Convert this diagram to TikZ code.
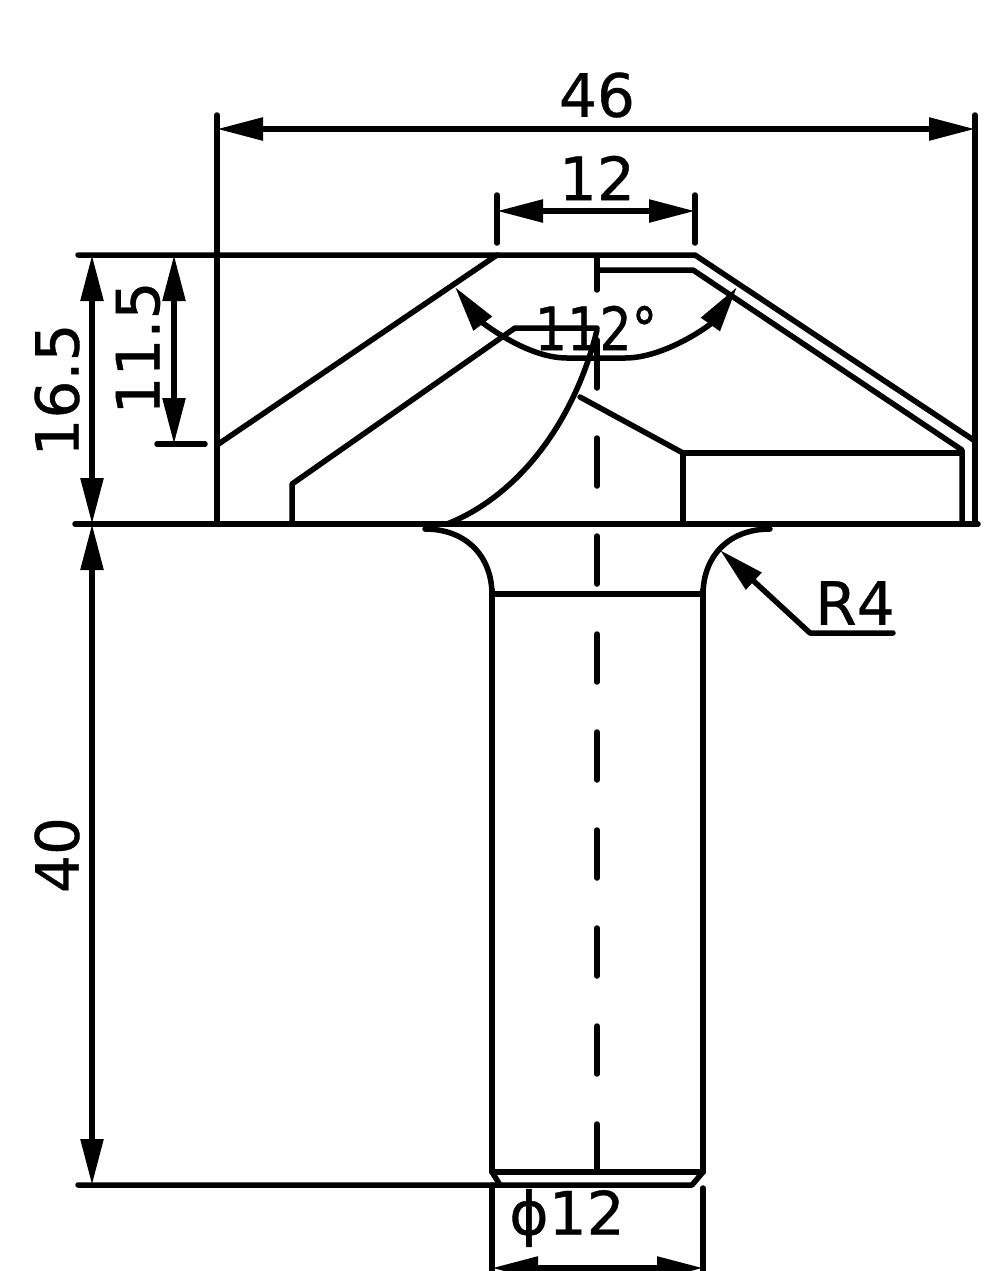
\documentclass[tikz,border=0pt]{standalone}
\usepackage{fontspec}
\setmainfont[FakeBold=0.6]{DejaVu Sans}
\usetikzlibrary{arrows.meta}
\tikzset{
	outline/.style={line width=0.55mm,line cap=round,line join=round},
	centerline/.style={outline,dash pattern=on 4.8mm off 5mm,dash phase=1.6mm},
	dimension/.style={outline,{Triangle[length=4.6mm,width=2.2mm]}-{Triangle[length=4.6mm,width=2.2mm]}},
	leader/.style={outline,{Triangle[length=4.6mm,width=2.2mm]}-},
	dimtext/.style={inner sep=0pt,font=\fontsize{17pt}{20pt}\selectfont}
}
\begin{document}
\begin{tikzpicture}[x=0.1mm,y=-0.1mm]
		\clip (0,0) rectangle (1000,1271);

		\node at (597,  95) [dimtext] (width_total) {46};
		\node at (597, 178) [dimtext] (width_top)   {12};
		\node at (596, 328) [dimtext,xscale=0.85] (angle_top)   {112°};
		\node at (57,  390) [dimtext,rotate=90] (height_total) {16.5};
		\node at (138, 348) [dimtext,rotate=90] (height_cham)  {11.5};
		\node at (57,  855) [dimtext,rotate=90] (length_shank) {40};
		\node at (855, 603) [dimtext] (radius_neck) {R4};
		\node at (567,1218) [dimtext] (dia_shank)   {ϕ12};

		% cutter head
		\draw[outline] (78,255) -- (695,255) -- (975,441);
		\draw[outline] (497,255) -- (217,445);
		\draw[outline] (75,524) -- (978,524);
		\draw[outline] (217,115) -- (217,524);
		\draw[outline] (975,115) -- (975,524);
		\draw[outline] (597,270) -- (693,270) -- (962,450) -- (962,524);
		\draw[outline] (292,524) -- (292,484) -- (515,328) -- (597,328);
		\draw[outline] (683,524) -- (683,453) -- (962,453);
		\draw[outline] (683,453) -- (580,397);
		\draw[outline] (447,524) .. controls (520,495) and (575,420) .. (597,330);

		% neck and shank
		\draw[outline] (425,529) .. controls (465,529) and (492,555) .. (492,595);
		\draw[outline] (770,529) .. controls (730,529) and (703,555) .. (703,595);
		\draw[outline] (492,594) -- (703,594);
		\draw[outline] (492,590) -- (492,1172) -- (703,1172) -- (703,590);
		\draw[outline] (78,1185) -- (692,1185) -- (703,1172);
		\draw[outline] (492,1172) -- (500,1185);

		\draw[centerline] (597,258) -- (597,1172);

		% dimensions
		\draw[dimension] (217,129) -- (975,129);
		\draw[dimension] (497,211) -- (695,211);
		\draw[outline] (497,195) -- (497,243);
		\draw[outline] (695,195) -- (695,243);
		\draw[dimension] (92,255) -- (92,524);
		\draw[dimension] (92,524) -- (92,1185);
		\draw[dimension] (174,255) -- (174,444);
		\draw[outline] (157,444) -- (205,444);
		\draw[dimension] (455,287) .. controls (480,320) and (525,358) .. (567,358) -- (625,358) .. controls (665,358) and (710,325) .. (737,287);
		\draw[outline] (492,1185) -- (492,1271);
		\draw[outline] (703,1188) -- (703,1271);
		\draw[dimension] (492,1268) -- (703,1268);
		\draw[leader] (720,550) -- (810,633) -- (893,633);
	\end{tikzpicture}
\end{document}
